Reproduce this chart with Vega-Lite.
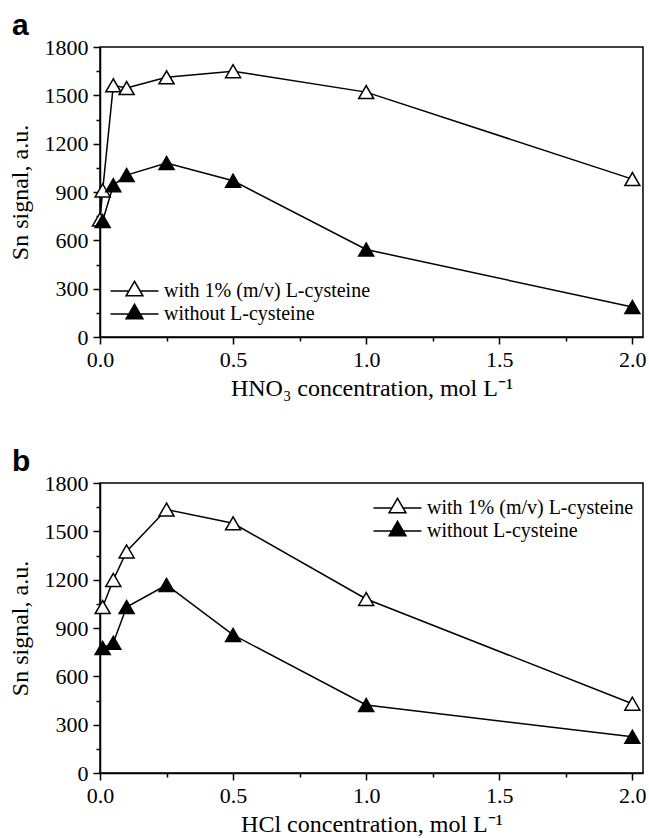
{
  "$schema": "https://vega.github.io/schema/vega-lite/v6.json",
  "padding": {"left": 7, "top": 10, "right": 2, "bottom": 0},
  "background": "white",
  "datasets": {
    "a": [
      {"x": 0.0, "y": 730, "series": "with 1% (m/v) L-cysteine"},
      {"x": 0.01, "y": 910, "series": "with 1% (m/v) L-cysteine"},
      {"x": 0.05, "y": 1562, "series": "with 1% (m/v) L-cysteine"},
      {"x": 0.1, "y": 1545, "series": "with 1% (m/v) L-cysteine"},
      {"x": 0.25, "y": 1612, "series": "with 1% (m/v) L-cysteine"},
      {"x": 0.5, "y": 1650, "series": "with 1% (m/v) L-cysteine"},
      {"x": 1.0, "y": 1520, "series": "with 1% (m/v) L-cysteine"},
      {"x": 2.0, "y": 980, "series": "with 1% (m/v) L-cysteine"},
      {"x": 0.01, "y": 720, "series": "without L-cysteine"},
      {"x": 0.05, "y": 942, "series": "without L-cysteine"},
      {"x": 0.1, "y": 1005, "series": "without L-cysteine"},
      {"x": 0.25, "y": 1080, "series": "without L-cysteine"},
      {"x": 0.5, "y": 970, "series": "without L-cysteine"},
      {"x": 1.0, "y": 543, "series": "without L-cysteine"},
      {"x": 2.0, "y": 186, "series": "without L-cysteine"}
    ],
    "b": [
      {"x": 0.01, "y": 1030, "series": "with 1% (m/v) L-cysteine"},
      {"x": 0.05, "y": 1198, "series": "with 1% (m/v) L-cysteine"},
      {"x": 0.1, "y": 1375, "series": "with 1% (m/v) L-cysteine"},
      {"x": 0.25, "y": 1635, "series": "with 1% (m/v) L-cysteine"},
      {"x": 0.5, "y": 1550, "series": "with 1% (m/v) L-cysteine"},
      {"x": 1.0, "y": 1080, "series": "with 1% (m/v) L-cysteine"},
      {"x": 2.0, "y": 430, "series": "with 1% (m/v) L-cysteine"},
      {"x": 0.01, "y": 776, "series": "without L-cysteine"},
      {"x": 0.05, "y": 808, "series": "without L-cysteine"},
      {"x": 0.1, "y": 1030, "series": "without L-cysteine"},
      {"x": 0.25, "y": 1167, "series": "without L-cysteine"},
      {"x": 0.5, "y": 857, "series": "without L-cysteine"},
      {"x": 1.0, "y": 422, "series": "without L-cysteine"},
      {"x": 2.0, "y": 225, "series": "without L-cysteine"}
    ]
  },
  "spacing": 45,
  "vconcat": [
    {
      "width": 543,
      "height": 290,
      "title": {"text": "a", "anchor": "start", "frame": "group", "dx": -88, "dy": 42, "offset": 13, "baseline": "alphabetic", "font": "Liberation Sans", "fontWeight": "bold", "fontSize": 30, "color": "black"},
      "data": {"name": "a"},
      "encoding": {
        "x": {"field": "x", "type": "quantitative", "scale": {"domain": [0, 2.04], "nice": false, "zero": false},
          "axis": {"title": "HNO₃ concentration, mol L⁻¹", "values": [0, 0.25, 0.5, 0.75, 1, 1.25, 1.5, 1.75, 2],
            "labelExpr": "datum.value % 0.5 === 0 ? format(datum.value, '.1f') : ''",
            "tickSize": {"condition": {"test": "datum.value % 0.5 !== 0", "value": 4}, "value": 7}}},
        "y": {"field": "y", "type": "quantitative", "scale": {"domain": [0, 1800], "nice": false},
          "axis": {"title": "Sn signal, a.u.", "values": [0, 150, 300, 450, 600, 750, 900, 1050, 1200, 1350, 1500, 1650, 1800],
            "labelExpr": "datum.value % 300 === 0 ? format(datum.value, 'd') : ''",
            "tickSize": {"condition": {"test": "datum.value % 300 !== 0", "value": 4}, "value": 7}}}
      },
      "layer": [
        {"mark": {"type": "line", "color": "black", "strokeWidth": 1.5}, "encoding": {"detail": {"field": "series"}}},
        {"mark": {"type": "point", "shape": "triangle-up", "size": 225, "filled": true, "stroke": "black", "strokeWidth": 1.5, "opacity": 1},
          "encoding": {"fill": {"field": "series", "type": "nominal",
            "scale": {"domain": ["with 1% (m/v) L-cysteine", "without L-cysteine"], "range": ["white", "black"]},
            "legend": {"title": null, "orient": "none", "legendX": 21.5, "legendY": 231}}}}
      ]
    },
    {
      "width": 543,
      "height": 290,
      "title": {"text": "b", "anchor": "start", "frame": "group", "dx": -88, "dy": 42, "offset": 13, "baseline": "alphabetic", "font": "Liberation Sans", "fontWeight": "bold", "fontSize": 30, "color": "black"},
      "data": {"name": "b"},
      "encoding": {
        "x": {"field": "x", "type": "quantitative", "scale": {"domain": [0, 2.04], "nice": false, "zero": false},
          "axis": {"title": "HCl concentration, mol L⁻¹", "values": [0, 0.25, 0.5, 0.75, 1, 1.25, 1.5, 1.75, 2],
            "labelExpr": "datum.value % 0.5 === 0 ? format(datum.value, '.1f') : ''",
            "tickSize": {"condition": {"test": "datum.value % 0.5 !== 0", "value": 4}, "value": 7}}},
        "y": {"field": "y", "type": "quantitative", "scale": {"domain": [0, 1800], "nice": false},
          "axis": {"title": "Sn signal, a.u.", "values": [0, 150, 300, 450, 600, 750, 900, 1050, 1200, 1350, 1500, 1650, 1800],
            "labelExpr": "datum.value % 300 === 0 ? format(datum.value, 'd') : ''",
            "tickSize": {"condition": {"test": "datum.value % 300 !== 0", "value": 4}, "value": 7}}}
      },
      "layer": [
        {"mark": {"type": "line", "color": "black", "strokeWidth": 1.5}, "encoding": {"detail": {"field": "series"}}},
        {"mark": {"type": "point", "shape": "triangle-up", "size": 225, "filled": true, "stroke": "black", "strokeWidth": 1.5, "opacity": 1},
          "encoding": {"fill": {"field": "series", "type": "nominal",
            "scale": {"domain": ["with 1% (m/v) L-cysteine", "without L-cysteine"], "range": ["white", "black"]},
            "legend": {"title": null, "orient": "none", "legendX": 284.5, "legendY": 12}}}}
      ]
    }
  ],
  "resolve": {"scale": {"fill": "independent"}, "legend": {"fill": "independent"}},
  "config": {
    "font": "Liberation Serif",
    "view": {"stroke": "black", "strokeWidth": 1.5},
    "axis": {
      "grid": false,
      "domainColor": "black", "domainWidth": 1.5,
      "tickColor": "black", "tickWidth": 1.5,
      "labelFont": "Liberation Serif", "labelFontSize": 22, "labelColor": "black", "labelPadding": 5,
      "labelFlush": false, "labelOverlap": false,
      "titleFont": "Liberation Serif", "titleFontSize": 24, "titleFontWeight": "normal", "titleColor": "black"
    },
    "axisX": {"titlePadding": 6},
    "axisY": {"titlePadding": 12},
    "legend": {
      "symbolType": "M -2 0 L -0.467 0 M 0.467 0 L 2 0 M 0 -0.808 L -0.7 0.404 L 0.7 0.404 Z",
      "symbolSize": 576,
      "symbolStrokeColor": "black",
      "symbolStrokeWidth": 1.5,
      "labelFont": "Liberation Serif", "labelFontSize": 20, "labelColor": "black",
      "labelOffset": 16.5, "padding": 0, "rowPadding": 0, "labelLimit": 400
    }
  }
}
